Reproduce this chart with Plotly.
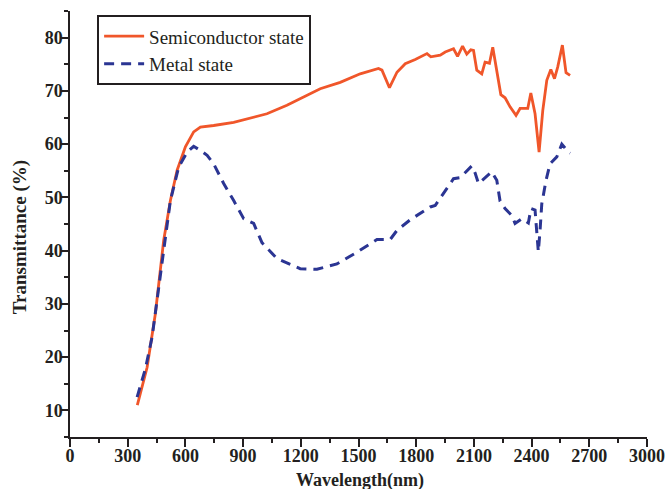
import plotly.graph_objects as go

# Semiconductor state (orange, solid)
semi_wl = [350, 401, 444, 487, 522, 557, 600, 643, 678, 747, 851, 955, 1024, 1128, 1197,
           1232, 1301, 1405, 1509, 1604, 1622, 1661, 1700, 1743, 1795, 1856, 1876, 1925,
           1951, 1994, 2015, 2041, 2063, 2084, 2098, 2115, 2141, 2158, 2181, 2198, 2240,
           2262, 2288, 2319, 2340, 2380, 2396, 2418, 2439, 2458, 2479, 2500, 2519, 2536,
           2560, 2579, 2600]
semi_t = [11.0, 18.1, 28.2, 41.9, 49.4, 55.1, 59.5, 62.3, 63.2, 63.5, 64.1, 65.1, 65.7, 67.3, 68.5,
          69.2, 70.4, 71.6, 73.2, 74.2, 73.9, 70.6, 73.5, 75.1, 75.9, 77.0, 76.4, 76.7,
          77.3, 77.9, 76.5, 78.4, 76.9, 77.7, 77.6, 73.9, 73.2, 75.4, 75.2, 78.2, 69.3,
          68.7, 67.0, 65.4, 66.7, 66.7, 69.6, 65.7, 58.5, 66.3, 72.0, 74.0, 72.3, 74.5,
          78.6, 73.4, 72.9]

# Metal state (blue, dashed)
metal_wl = [349, 392, 427, 453, 487, 522, 565, 609, 643, 678, 713, 747, 799, 851, 903,
            955, 998, 1076, 1197, 1284, 1388, 1492, 1596, 1665, 1700, 1769, 1873, 1899,
            1942, 1994, 2029, 2089, 2106, 2124, 2146, 2193, 2219, 2236, 2262, 2297, 2314,
            2349, 2383, 2397, 2418, 2427, 2435, 2444, 2453, 2475, 2496, 2531, 2557, 2591, 2600]
metal_t = [12.5, 17.8, 23.8, 31.3, 40.0, 49.4, 55.7, 58.5, 59.6, 58.8, 57.9, 56.3, 52.6, 49.4, 46.0,
           45.1, 41.5, 38.5, 36.6, 36.5, 37.5, 39.7, 42.1, 42.1, 43.8, 45.8, 48.2, 48.5,
           50.7, 53.5, 53.7, 55.9, 54.6, 52.6, 53.3, 54.8, 53.2, 49.3, 47.9, 46.6, 45.1,
           46.0, 45.2, 47.9, 47.6, 43.8, 39.8, 43.8, 48.8, 53.2, 56.3, 57.6, 60.0, 58.5, 58.3]

x_ticks = [0, 300, 600, 900, 1200, 1500, 1800, 2100, 2400, 2700, 3000]
y_ticks = [10, 20, 30, 40, 50, 60, 70, 80]

fig = go.Figure()
fig.add_trace(go.Scatter(x=semi_wl, y=semi_t, mode="lines", name="Semiconductor state",
                         line=dict(color="#F0562A", width=2.8)))
fig.add_trace(go.Scatter(x=metal_wl, y=metal_t, mode="lines", name="Metal state",
                         line=dict(color="#2B3593", width=3, dash="10px,7px")))

serif = "Liberation Serif, Times New Roman, serif"
ink = "#231F20"
fig.update_layout(
    width=667, height=489,
    margin=dict(l=70, r=20, t=11, b=52),
    plot_bgcolor="white", paper_bgcolor="white",
    font=dict(family=serif, color=ink),
    showlegend=True,
    legend=dict(x=0.047, y=0.99, xanchor="left", yanchor="top",
                bordercolor=ink, borderwidth=2, bgcolor="white",
                font=dict(family=serif, size=19, color=ink),
                tracegroupgap=0, itemwidth=40),
    xaxis=dict(range=[0, 3000], tickvals=x_ticks, ticktext=[f"<b>{v}</b>" for v in x_ticks],
               automargin=False,
               showgrid=False, zeroline=False, showline=True, linecolor=ink, linewidth=1.5,
               ticks="outside", ticklen=8, tickwidth=1.5, tickcolor=ink, ticklabelstandoff=-6,
               minor=dict(dtick=150, ticks="outside", ticklen=4, tickwidth=1.5, tickcolor=ink, showgrid=False),
               tickfont=dict(family=serif, size=18, color=ink)),
    yaxis=dict(range=[5, 85], tickvals=y_ticks, ticktext=[f"<b>{v}</b>" for v in y_ticks],
               automargin=False,
               showgrid=False, zeroline=False, showline=True, linecolor=ink, linewidth=1.5,
               ticks="outside", ticklen=8, tickwidth=1.5, tickcolor=ink, ticklabelstandoff=-6,
               minor=dict(tick0=5, dtick=10, ticks="outside", ticklen=4, tickwidth=1.5, tickcolor=ink, showgrid=False),
               tickfont=dict(family=serif, size=18, color=ink)),
    annotations=[
        dict(text="<b>Transmittance (%)</b>", textangle=-90, xref="paper", yref="paper",
             x=-0.0867, y=0.469, xanchor="center", yanchor="middle", showarrow=False,
             font=dict(family=serif, size=19, color=ink)),
        dict(text="<b>Wavelength(nm)</b>", xref="paper", yref="paper",
             x=0.5026, y=-0.101, xanchor="center", yanchor="middle", showarrow=False,
             font=dict(family=serif, size=18, color=ink)),
    ],
)

fig.write_html("out.html", config={"displayModeBar": False},
               post_script="document.body.style.margin='0';document.body.style.overflow='hidden';")
